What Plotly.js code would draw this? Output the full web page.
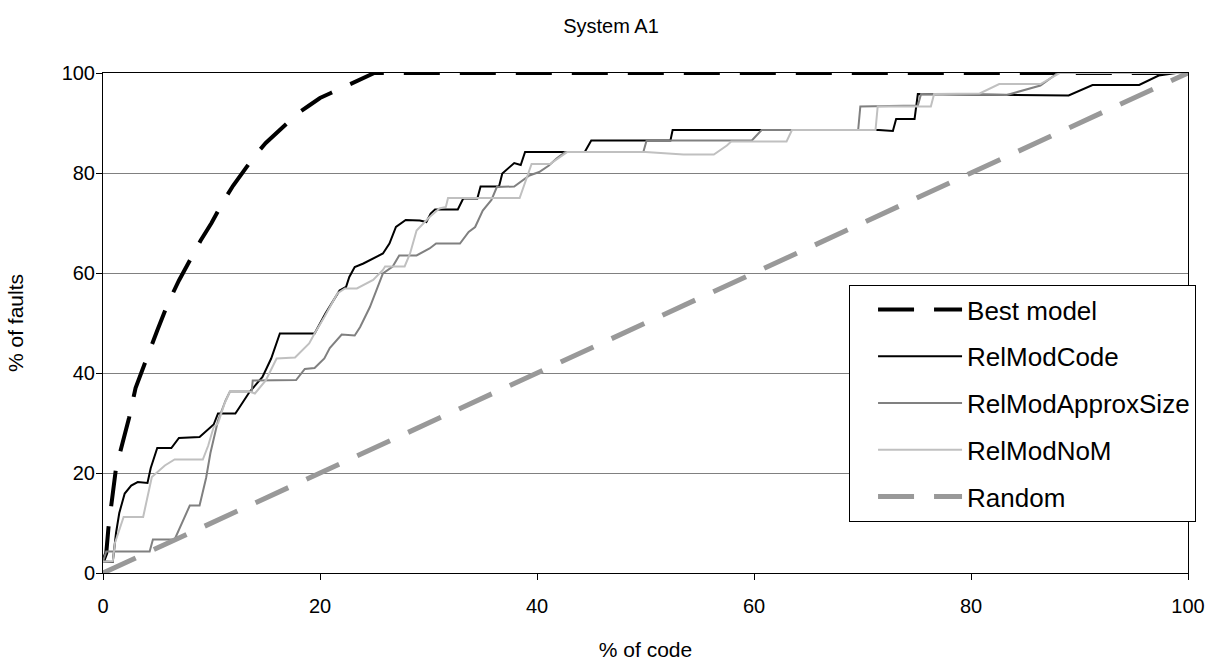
<!DOCTYPE html>
<html>
<head>
<meta charset="utf-8">
<script src="https://cdn.plot.ly/plotly-3.0.1.min.js"></script>
<style>html,body{margin:0;padding:0;background:#fff;}#chart{width:1222px;height:671px;}</style>
</head>
<body>
<div id="chart"></div>
<script>
// ---- data (percent of code vs percent of faults) ----
const bestX = [0, 0.3, 0.5, 0.8, 1.2, 1.8, 2.4, 3, 4, 5, 6, 7, 8, 9, 10, 11, 12, 13, 14, 15, 16, 17, 18, 19, 20, 21, 22, 23, 24, 25, 100];
const bestY = [2.3, 4, 9, 14, 21, 26, 31, 37, 43, 48.5, 54, 58.5, 62.5, 66.5, 70, 74, 77.5, 80.5, 83.5, 86, 88, 90.2, 92, 93.5, 95, 96, 97, 98, 99, 100, 100];

const codeX = [0, 0.9, 1.2, 1.5, 2.0, 2.6, 3.2, 4.1, 4.4, 5.0, 6.3, 7.0, 8.9, 10.2, 10.6, 12.2, 12.6, 13.5, 14.7, 15.5, 16.3, 19.5, 20.5, 21.8, 22.4, 22.7, 23.2, 24.0, 25.8, 26.4, 27.0, 27.9, 29.2, 29.8, 30.2, 30.6, 32.7, 33.2, 34.5, 34.8, 36.5, 36.8, 37.9, 38.5, 38.9, 44.4, 45.0, 52.3, 52.5, 71.5, 72.8, 73.1, 74.8, 75.1, 89.0, 91.2, 95.5, 97.3, 98.9, 100];
const codeY = [2.3, 2.2, 8, 12, 15.9, 17.5, 18.2, 18, 21, 25, 25, 27, 27.2, 29.7, 31.9, 31.9, 33.2, 36.2, 39.2, 42.9, 47.9, 47.9, 51.9, 56.5, 57.2, 59.2, 61.2, 61.9, 63.9, 65.9, 69.2, 70.6, 70.5, 70.2, 71.9, 72.7, 72.7, 74.9, 74.9, 77.3, 77.3, 79.9, 82.0, 81.6, 84.2, 84.2, 86.5, 86.5, 88.6, 88.6, 88.4, 90.8, 90.8, 95.8, 95.5, 97.6, 97.6, 99.5, 100, 100];

const approxX = [0, 0.3, 4.3, 4.6, 6.6, 7.5, 8.0, 8.9, 9.2, 9.5, 9.9, 10.2, 10.6, 11.3, 11.7, 13.7, 13.8, 17.8, 18.6, 19.5, 20.4, 20.9, 21.4, 22.0, 23.2, 23.7, 24.6, 25.2, 25.8, 26.7, 27.3, 28.9, 30.1, 30.7, 32.9, 33.7, 34.3, 35.0, 35.8, 36.3, 37.9, 39.3, 40.2, 41.1, 41.8, 42.6, 49.8, 50.1, 59.8, 60.7, 69.6, 69.8, 75.1, 75.4, 83.3, 86.4, 88.0, 100];
const approxY = [2.3, 4.3, 4.3, 6.7, 6.7, 11.2, 13.5, 13.5, 16, 19, 24, 27, 30.5, 34.5, 36.3, 36.3, 38.5, 38.6, 40.8, 41, 42.9, 45, 46.2, 47.7, 47.5, 49.2, 53.2, 56.5, 59.9, 61.3, 63.5, 63.5, 64.9, 65.9, 65.9, 68.2, 69.2, 72.5, 74.6, 77.2, 77.3, 79.5, 80.2, 81.5, 82.9, 84.2, 84.2, 86.5, 86.5, 88.6, 88.6, 93.3, 93.5, 95.8, 95.6, 97.5, 100, 100];

const nomX = [0, 0.9, 1.1, 1.9, 3.7, 4.2, 4.5, 5.7, 6.6, 9.2, 9.7, 10.2, 10.6, 11.2, 11.7, 13.5, 14.0, 15.0, 16.0, 17.7, 19.0, 19.5, 20.4, 21.6, 22.3, 23.4, 24.9, 25.8, 26.0, 27.8, 28.3, 28.9, 29.8, 30.1, 31.0, 31.6, 31.8, 38.4, 39.5, 41.2, 42.8, 50.0, 53.5, 56.3, 57.5, 57.9, 63.0, 63.5, 71.2, 71.4, 76.3, 76.6, 80.8, 82.6, 86.4, 88.2, 100];
const nomY = [2.3, 2.3, 6, 11.2, 11.2, 15.9, 19.2, 21.5, 22.7, 22.7, 25.5, 29.2, 29.9, 33.9, 36.3, 36.3, 35.9, 38.5, 42.9, 43.1, 45.9, 47.9, 51.2, 55.9, 56.9, 56.9, 58.6, 60.6, 61.3, 61.3, 63.9, 68.5, 70.6, 71.2, 72.9, 73.2, 75.0, 75.0, 81.8, 81.8, 84.2, 84.2, 83.7, 83.7, 85.5, 86.3, 86.3, 88.6, 88.6, 93.3, 93.3, 95.8, 95.9, 97.8, 97.8, 100, 100];

const randomX = [0, 100];
const randomY = [0, 100];

const seriesNames = ['Best model', 'RelModCode', 'RelModApproxSize', 'RelModNoM', 'Random'];
const tickVals = [0, 20, 40, 60, 80, 100];

const FONT = 'Liberation Sans, Arial, sans-serif';

const traces = [
  {x: bestX, y: bestY, name: seriesNames[0], legendgroup: 'g1', mode: 'lines', cliponaxis: false,
   line: {color: '#000000', width: 4, dash: '36px,20px'}},
  {x: codeX, y: codeY, name: seriesNames[1], legendgroup: 'g2', mode: 'lines', cliponaxis: false,
   line: {color: '#000000', width: 2}},
  {x: approxX, y: approxY, name: seriesNames[2], legendgroup: 'g3', mode: 'lines', cliponaxis: false,
   line: {color: '#808080', width: 2}},
  {x: nomX, y: nomY, name: seriesNames[3], legendgroup: 'g4', mode: 'lines', cliponaxis: false,
   line: {color: '#c0c0c0', width: 2}},
  {x: randomX, y: randomY, name: seriesNames[4], legendgroup: 'g5', mode: 'lines', cliponaxis: false,
   line: {color: '#999999', width: 5, dash: '36px,20px'}}
];

const layout = {
  width: 1222, height: 671,
  margin: {l: 103, r: 34, t: 73, b: 98, pad: 0},
  paper_bgcolor: '#ffffff', plot_bgcolor: '#ffffff',
  font: {family: FONT, size: 20, color: '#000000'},
  title: {text: 'System A1', font: {family: FONT, size: 20, color: '#000'}, x: 0.5, xref: 'container', y: 1 - 26/671, yref: 'container', yanchor: 'middle'},
  showlegend: true,
  legend: {x: 0.6876, y: 0.576, xanchor: 'left', yanchor: 'top', bgcolor: '#ffffff', bordercolor: '#000000', borderwidth: 1,
           font: {family: FONT, size: 26, color: '#000'}, itemwidth: 84, indentation: 23, traceorder: 'grouped', tracegroupgap: 10},
  xaxis: {range: [0, 100], tickvals: tickVals, ticktext: tickVals.map(String), ticks: 'outside', ticklen: 6, tickcolor: '#000', tickwidth: 1,
          showline: true, linecolor: '#000', linewidth: 1, mirror: true, showgrid: false, zeroline: false,
          tickfont: {family: FONT, size: 20, color: '#000'}, ticklabelstandoff: 9,
          title: {text: '% of code', font: {family: FONT, size: 21, color: '#000'}, standoff: 26}},
  yaxis: {range: [0, 100], tickvals: tickVals, ticktext: tickVals.map(String), ticks: 'outside', ticklen: 6, tickcolor: '#000', tickwidth: 1,
          showline: true, linecolor: '#000', linewidth: 1, mirror: true, showgrid: true, gridcolor: '#808080', gridwidth: 1, zeroline: false,
          tickfont: {family: FONT, size: 20, color: '#000'}, ticklabelstandoff: -3,
          title: {text: '% of faults', font: {family: FONT, size: 21, color: '#000'}, standoff: 32}}
};

Plotly.newPlot('chart', traces, layout, {displayModeBar: false, staticPlot: true});
</script>
</body>
</html>
